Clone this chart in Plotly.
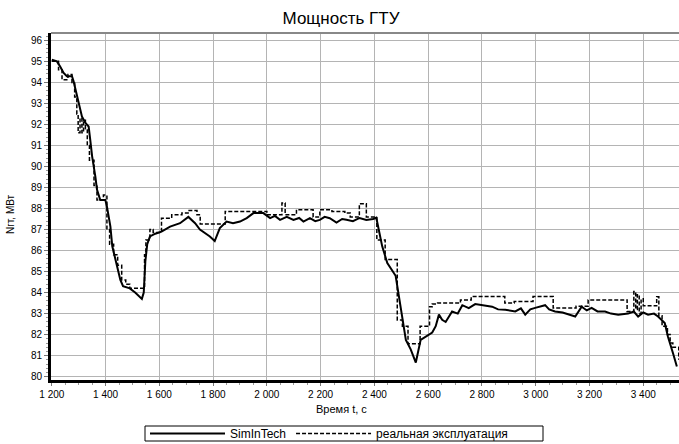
import plotly.graph_objects as go

# SimInTech (solid)
t_sim = [1200, 1219, 1231, 1244, 1256, 1275, 1281, 1287, 1300, 1312, 1325, 1337, 1343, 1350,
         1362, 1368, 1380, 1399, 1405, 1418, 1425, 1442, 1455, 1465, 1490, 1510, 1525, 1535,
         1542, 1548, 1555, 1565, 1585, 1608, 1640, 1677, 1708, 1733, 1751, 1788, 1806, 1825,
         1850, 1874, 1900, 1925, 1950, 1987, 2012, 2030, 2049, 2074, 2099, 2120, 2136, 2160,
         2180, 2197, 2215, 2234, 2259, 2280, 2296, 2320, 2345, 2370, 2395, 2407, 2429, 2448,
         2479, 2492, 2504, 2517, 2535, 2554, 2572, 2591, 2615, 2628, 2640, 2652, 2665, 2689,
         2710, 2727, 2751, 2775, 2800, 2838, 2860, 2887, 2924, 2945, 2961, 2980, 2998, 3035,
         3050, 3072, 3100, 3122, 3147, 3171, 3190, 3208, 3230, 3258, 3280, 3307, 3344, 3365,
         3381, 3400, 3418, 3440, 3455, 3480, 3492, 3511, 3525]
n_sim = [95.08, 95.0, 94.76, 94.45, 94.29, 94.29, 94.05, 93.73, 93.1, 92.38, 92.07, 91.9, 91.27, 90.48,
         89.52, 88.9, 88.41, 88.41, 88.1, 87.14, 86.2, 85.2, 84.6, 84.3, 84.2, 84.0, 83.8, 83.7,
         84.0, 85.5, 86.3, 86.67, 86.8, 86.9, 87.14, 87.3, 87.6, 87.3, 87.0, 86.67, 86.45, 87.07,
         87.38, 87.3, 87.38, 87.54, 87.78, 87.78, 87.54, 87.65, 87.46, 87.6, 87.46, 87.55, 87.38, 87.54,
         87.4, 87.46, 87.6, 87.54, 87.33, 87.5, 87.46, 87.4, 87.55, 87.45, 87.5, 87.56, 86.2, 85.4,
         84.8, 83.8, 82.7, 81.75, 81.3, 80.67, 81.75, 81.9, 82.1, 82.4, 82.95, 82.7, 82.6, 83.1,
         83.0, 83.4, 83.26, 83.45, 83.4, 83.33, 83.2, 83.18, 83.1, 83.25, 82.95, 83.2, 83.27, 83.4,
         83.2, 83.1, 83.05, 82.95, 82.86, 83.33, 83.15, 83.27, 83.1, 83.1, 83.0, 82.95, 83.0, 83.1,
         82.86, 83.05, 82.95, 83.0, 82.86, 82.55, 81.9, 81.1, 80.48]

# Real operation (dashed, stepped)
t_real = [1200, 1225, 1238, 1260, 1275, 1285, 1293, 1298, 1305, 1312, 1318, 1325, 1332, 1340,
          1357, 1368, 1392, 1405, 1415, 1430, 1445, 1460, 1475, 1490, 1545, 1550, 1565, 1577,
          1608, 1646, 1684, 1707, 1740, 1752, 1845, 2000, 2056, 2068, 2110, 2172, 2197, 2242,
          2290, 2310, 2344, 2370, 2409, 2440, 2485, 2504, 2525, 2570, 2605, 2615, 2635, 2720,
          2760, 2885, 2920, 2990, 3065, 3150, 3195, 3340, 3365, 3372, 3378, 3385, 3392, 3400,
          3450, 3458, 3470, 3490, 3500, 3510, 3532]
n_real = [95.0, 94.6, 94.13, 94.37, 94.0, 93.3, 92.5, 91.6, 92.3, 91.6, 92.2, 91.8, 91.0, 90.3,
          89.1, 88.4, 88.64, 87.0, 86.3, 85.8, 85.3, 84.6, 84.4, 84.2, 85.8, 86.5, 87.0, 86.86,
          87.54, 87.7, 87.78, 87.9, 87.7, 87.26, 87.86, 87.7, 88.26, 87.7, 87.94, 87.6, 87.94, 87.86,
          87.78, 87.6, 88.22, 87.6, 86.5, 85.57, 82.7, 82.4, 81.56, 82.4, 83.33, 83.46, 83.5, 83.65,
          83.81, 83.5, 83.58, 83.81, 83.27, 83.35, 83.65, 83.1, 84.05, 83.2, 83.9, 83.0, 83.7, 83.37,
          83.8, 82.9, 82.4, 82.0, 81.6, 81.4, 80.8]

x_ticks = [1200, 1400, 1600, 1800, 2000, 2200, 2400, 2600, 2800, 3000, 3200, 3400]
x_labels = ["1 200", "1 400", "1 600", "1 800", "2 000", "2 200", "2 400", "2 600",
            "2 800", "3 000", "3 200", "3 400"]
y_ticks = list(range(80, 97))

W, H = 679, 444
ML, MR, MT, MB = 51, 0, 33, 64
PW, PH = W - ML - MR, H - MT - MB


def px_x(px):
    return (px - ML) / PW


def px_y(py):
    return (H - MB - py) / PH


fig = go.Figure()
fig.add_trace(go.Scatter(x=t_sim, y=n_sim, mode="lines", name="SimInTech",
                         line=dict(color="black", width=2)))
fig.add_trace(go.Scatter(x=t_real, y=n_real, mode="lines", name="реальная эксплуатация",
                         line=dict(color="black", width=1.5, dash="4px,2px", shape="hv")))

font = "Liberation Sans, Arial, sans-serif"
fig.update_layout(
    width=W, height=H,
    margin=dict(l=ML, r=MR, t=MT, b=MB, autoexpand=False),
    paper_bgcolor="white", plot_bgcolor="white",
    font=dict(family=font, size=10, color="black"),
    title=dict(text="Мощность ГТУ", x=px_x(341), xref="paper", y=1 - 18 / H, yref="container",
               xanchor="center", yanchor="middle", font=dict(size=17, family=font)),
    showlegend=True,
    legend=dict(orientation="h", x=145 / W, xanchor="left", xref="container",
                y=1 - 433.5 / H, yanchor="middle", yref="container",
                borderwidth=0, itemwidth=75,
                font=dict(size=12, family=font), bgcolor="rgba(0,0,0,0)"),
    xaxis=dict(range=[1197, 3533], tickvals=x_ticks, ticktext=x_labels, automargin=False,
               showgrid=True, gridcolor="#b4b4b4", gridwidth=1,
               showline=True, linecolor="black", linewidth=3,
               ticks="outside", ticklen=3, tickcolor="#777", zeroline=False,
               minor=dict(dtick=50, ticks="outside", ticklen=2, tickcolor="#999", showgrid=False),
               tickfont=dict(size=10)),
    yaxis=dict(range=[79.84, 96.35], tickvals=y_ticks, automargin=False,
               showgrid=True, gridcolor="#b4b4b4", gridwidth=1,
               showline=True, linecolor="black", linewidth=3,
               ticks="outside", ticklen=4, tickcolor="#777", zeroline=False,
               minor=dict(dtick=0.2, ticks="outside", ticklen=2, tickcolor="#999", showgrid=False),
               tickfont=dict(size=10)),
    annotations=[
        dict(text="Время t, с", xref="paper", yref="paper", x=px_x(341), y=px_y(409),
             xanchor="center", yanchor="middle", showarrow=False, font=dict(size=11)),
        dict(text="Nгт, МВт", xref="paper", yref="paper", x=px_x(10), y=px_y(214),
             xanchor="center", yanchor="middle", showarrow=False, textangle=-90,
             font=dict(size=10)),
    ],
    shapes=[
        dict(type="line", xref="paper", yref="paper", x0=0, x1=1, y0=1, y1=1,
             line=dict(color="#888", width=2)),
        dict(type="rect", xref="paper", yref="paper", x0=px_x(145), x1=px_x(543),
             y0=px_y(426), y1=px_y(441), line=dict(color="black", width=1)),
    ],
)

fig.write_html("out.html", config={"displayModeBar": False},
               post_script="document.body.style.margin='0';document.body.style.padding='0';")
